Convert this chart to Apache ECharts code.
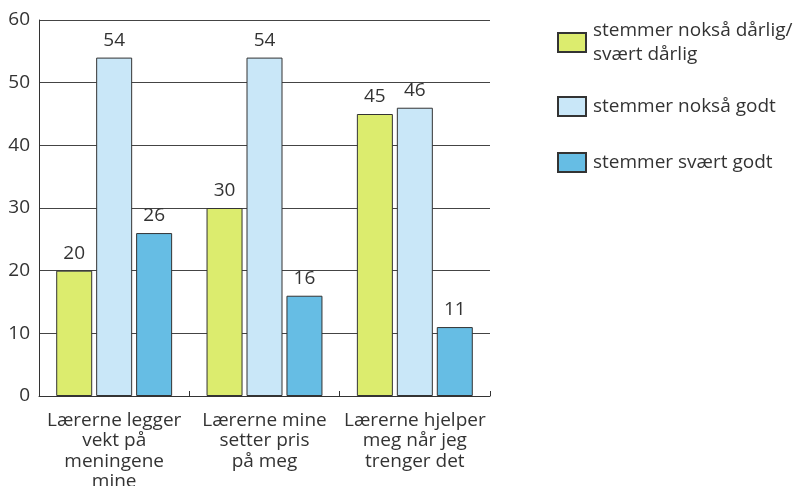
<!DOCTYPE html>
<html>
<head>
<meta charset="utf-8">
<script src="https://cdn.jsdelivr.net/npm/echarts@6/dist/echarts.min.js"></script>
<style>
  html, body { margin: 0; padding: 0; background: #fff; }
  #chart { width: 794px; height: 486px; }
</style>
</head>
<body>
<div id="chart"></div>
<script>
// Survey statements (x-axis) and answer shares per category
const categories = [
  'Lærerne legger\nvekt på\nmeningene\nmine',
  'Lærerne mine\nsetter pris\npå meg',
  'Lærerne hjelper\nmeg når jeg\ntrenger det'
];
const seriesNames = [
  'stemmer nokså dårlig/\nsvært dårlig',
  'stemmer nokså godt',
  'stemmer svært godt'
];
const badValues = [20, 30, 45];
const fairlyGoodValues = [54, 54, 46];
const veryGoodValues = [26, 16, 11];
const yTicks = [0, 10, 20, 30, 40, 50, 60];

const colors = ['#dcec6e', '#c9e7f8', '#66bde4'];
const font = '"Open Sans", "Noto Sans", sans-serif';
const textColor = '#333';
const fontSize = 19;

const chart = echarts.init(document.getElementById('chart'), null, { renderer: 'canvas' });

function makeSeries(name, data, color) {
  return {
    name: name,
    type: 'bar',
    data: data,
    barWidth: 36,
    barGap: '11%',
    itemStyle: { color: color, borderColor: '#333', borderWidth: 1 },
    label: {
      show: true,
      position: 'top',
      distance: 8,
      color: textColor,
      fontFamily: font,
      fontSize: fontSize
    },
    emphasis: { disabled: true },
    animation: false
  };
}

// One legend block per series so each entry can sit at its own height
function makeLegend(name, top, textPadding) {
  return {
    data: [{ name: name }],
    left: 557,
    top: top,
    padding: 0,
    orient: 'vertical',
    itemWidth: 28,
    itemHeight: 19,
    itemGap: 0,
    icon: 'rect',
    selectedMode: false,
    textStyle: {
      color: textColor,
      fontFamily: font,
      fontSize: fontSize,
      lineHeight: 24,
      padding: textPadding
    }
  };
}

chart.setOption({
  backgroundColor: '#fff',
  animation: false,
  grid: {
    left: 39, right: 304, top: 20, bottom: 90,
    containLabel: false,
    outerBoundsMode: 'none'
  },
  legend: [
    makeLegend(seriesNames[0], 6.5, [24, 0, 0, 2]),
    makeLegend(seriesNames[1], 94.5, [0, 0, 0, 2]),
    makeLegend(seriesNames[2], 150.5, [0, 0, 0, 2])
  ],
  xAxis: {
    type: 'category',
    data: categories,
    axisLine: { show: true, lineStyle: { color: '#333', width: 1 } },
    axisTick: { show: true, inside: true, length: 5, lineStyle: { color: '#333' } },
    axisLabel: {
      color: textColor,
      fontFamily: font,
      fontSize: fontSize,
      lineHeight: 20.5,
      margin: 14,
      interval: 0
    }
  },
  yAxis: {
    type: 'value',
    min: yTicks[0],
    max: yTicks[yTicks.length - 1],
    interval: 10,
    axisLine: { show: true, lineStyle: { color: '#333', width: 1 } },
    axisTick: { show: false },
    splitLine: { show: true, lineStyle: { color: '#444', width: 1 } },
    axisLabel: {
      color: textColor,
      fontFamily: font,
      fontSize: fontSize,
      margin: 9,
      padding: [4, 0, 0, 0]
    }
  },
  series: [
    makeSeries(seriesNames[0], badValues, colors[0]),
    makeSeries(seriesNames[1], fairlyGoodValues, colors[1]),
    makeSeries(seriesNames[2], veryGoodValues, colors[2])
  ]
});
</script>
</body>
</html>
